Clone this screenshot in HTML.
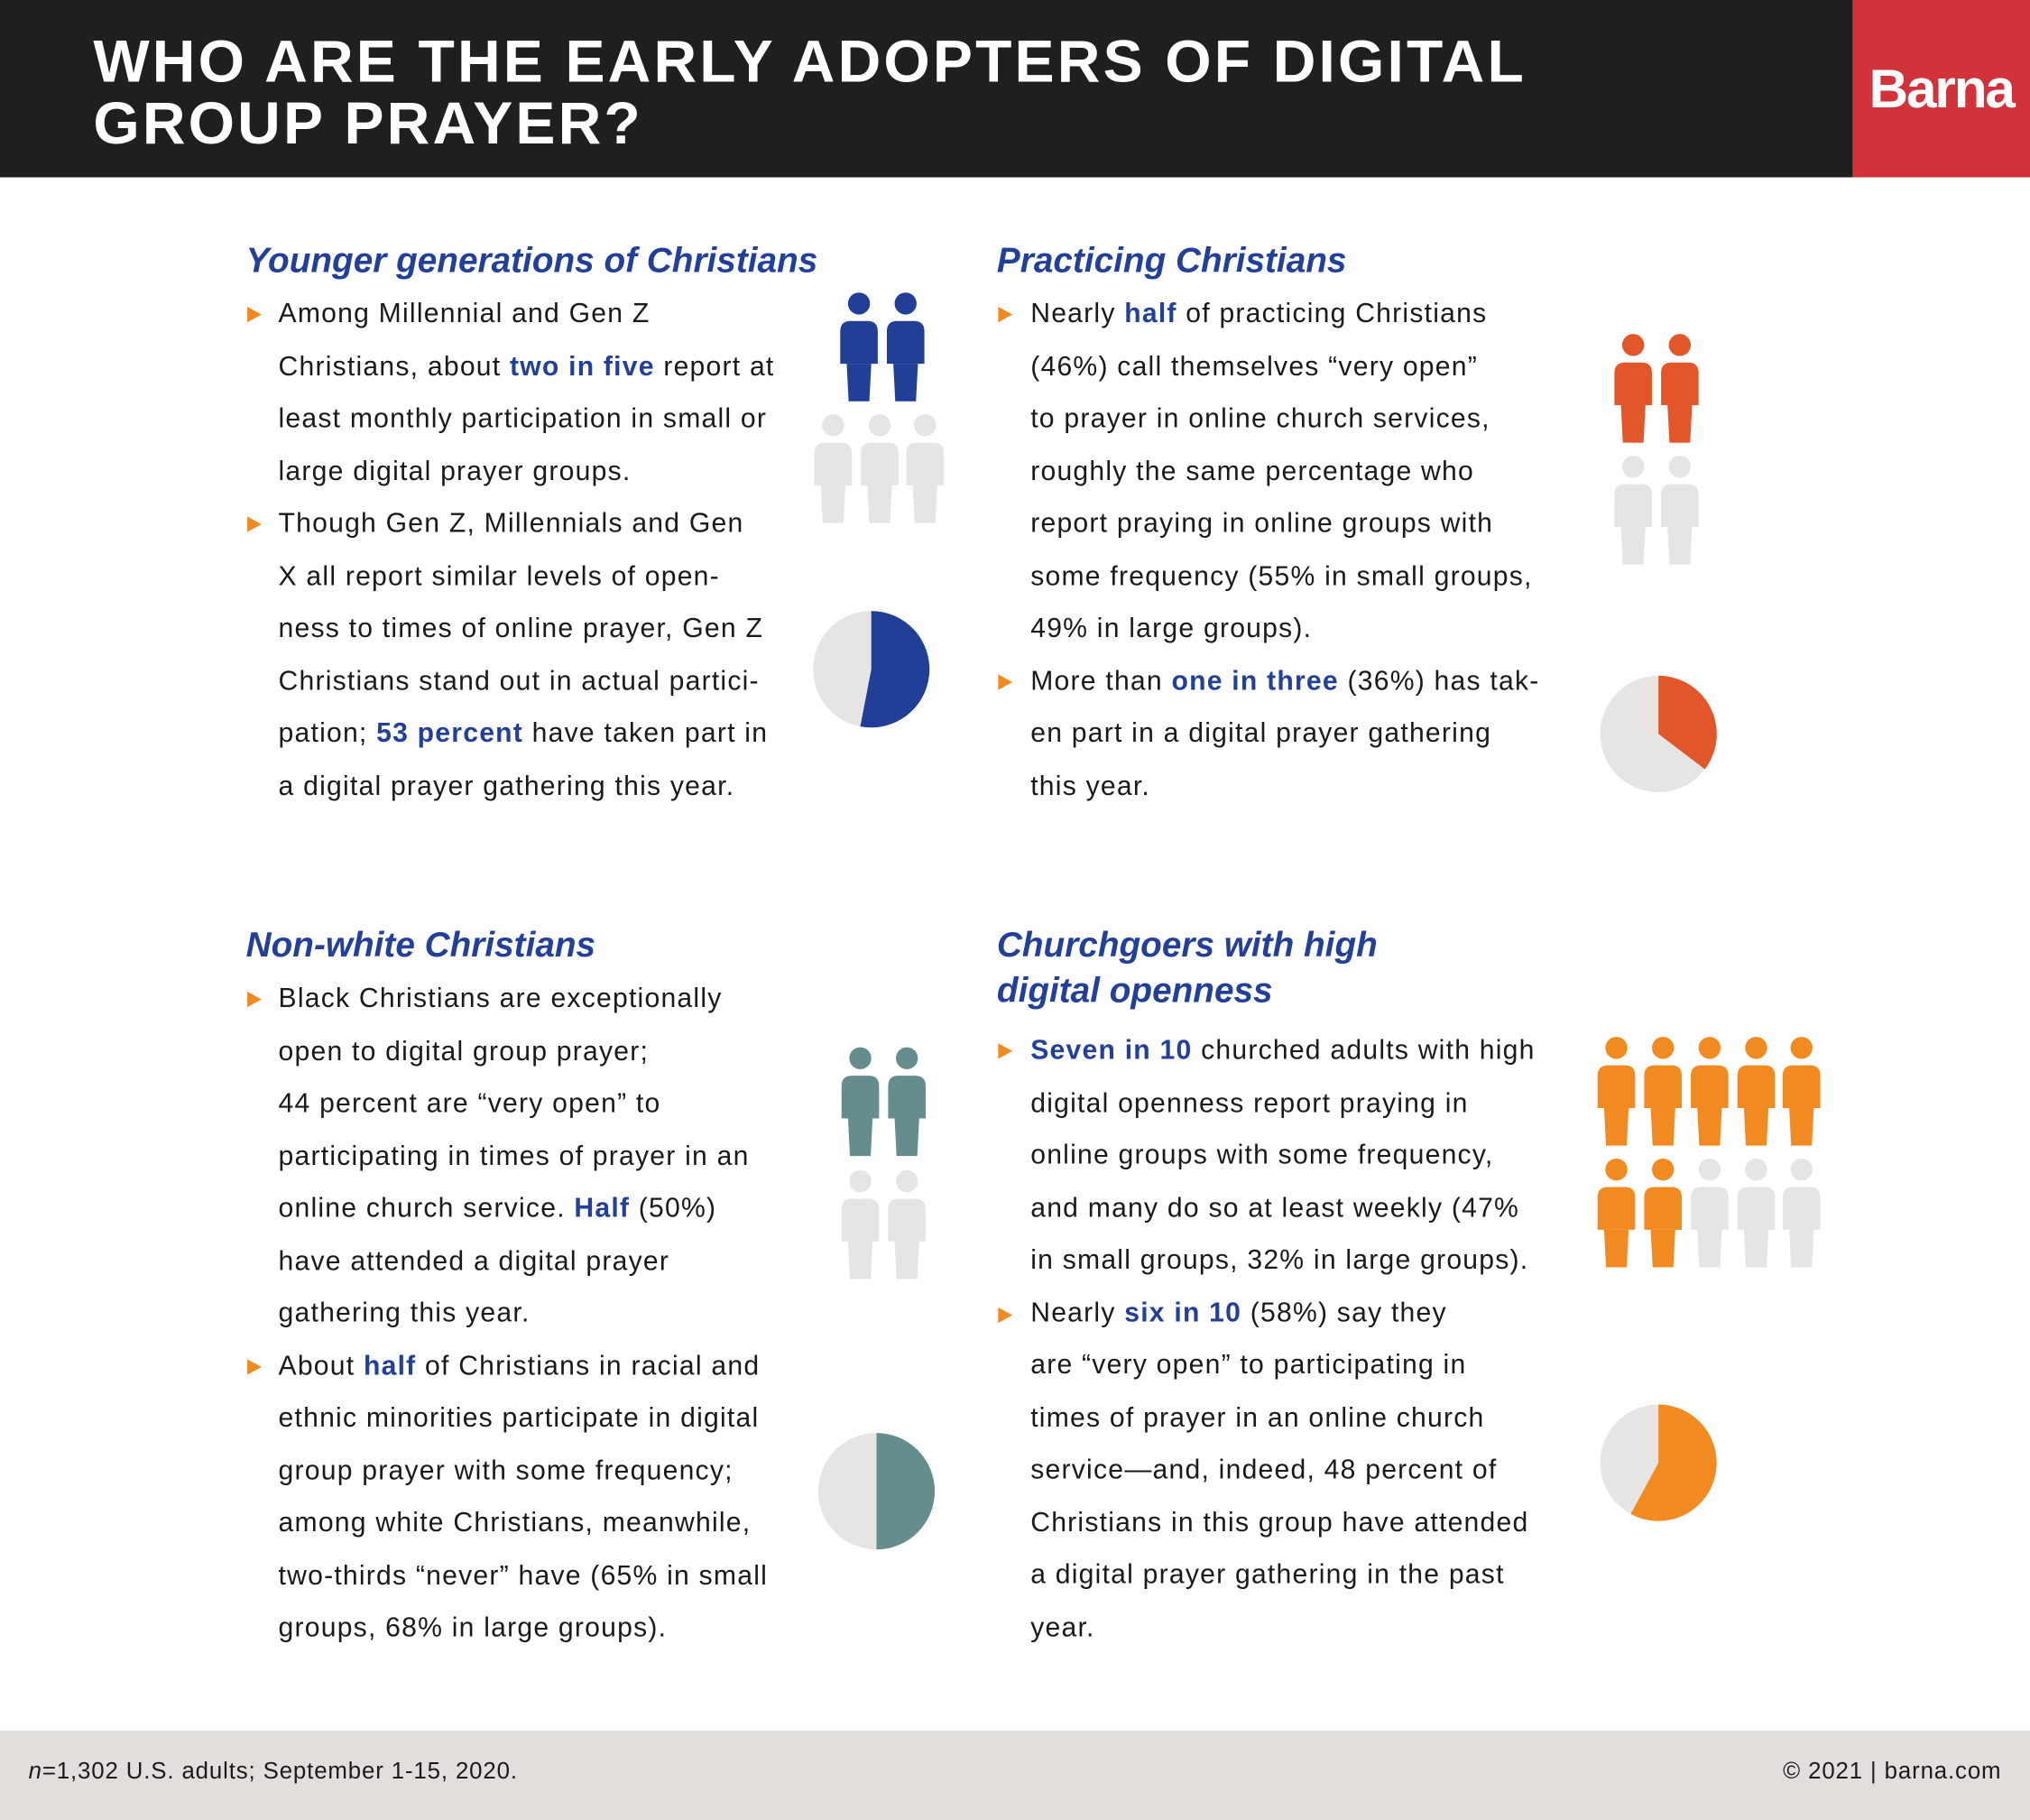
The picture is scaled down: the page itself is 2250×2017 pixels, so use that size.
<!DOCTYPE html>
<html><head><meta charset="utf-8"><style>
html,body{margin:0;padding:0;background:#fff;}
body{width:2250px;height:2017px;overflow:hidden;position:relative;}
#w{position:absolute;left:0;top:0;width:1568px;height:1406px;transform:scale(1.43495,1.4346);transform-origin:0 0;font-family:"Liberation Sans",sans-serif;color:#1a1a1a;}
.hdr{position:absolute;left:0;top:0;width:1431px;height:137px;background:#1f1f1f;}
.title{position:absolute;left:72px;top:23px;color:#fff;font-weight:bold;font-size:46px;line-height:48px;letter-spacing:2.2px;}
.logo{position:absolute;left:1431px;top:0;width:137px;height:137px;background:#d2333b;color:#fff;font-weight:bold;font-size:42px;line-height:137px;text-align:center;letter-spacing:-1.5px;}
.h{position:absolute;font-size:27px;font-weight:bold;font-style:italic;color:#22409a;line-height:35px;white-space:nowrap;}
.t{position:absolute;font-size:21px;line-height:40.5px;white-space:nowrap;letter-spacing:0.85px;}
.t b{color:#22409a;}
.tri{position:absolute;width:0;height:0;border-left:11px solid #f28a22;border-top:6.5px solid transparent;border-bottom:6.5px solid transparent;}
.ft{position:absolute;left:0;top:1337px;width:1568px;height:69px;background:#e2dedb;font-size:18px;letter-spacing:0.6px;}
svg{position:absolute;left:0;top:0;}
</style></head><body><div id="w">
<div class="hdr"></div>
<div class="title">WHO ARE THE EARLY ADOPTERS OF DIGITAL<br>GROUP PRAYER?</div>
<div class="logo">Barna</div>

<div class="h" style="left:190px;top:184px">Younger generations of Christians</div>
<div class="tri" style="left:191px;top:237px"></div>
<div class="tri" style="left:191px;top:399px"></div>
<div class="t" style="left:215px;top:223px">Among Millennial and Gen Z<br>Christians, about <b>two in five</b> report at<br>least monthly participation in small or<br>large digital prayer groups.<br>Though Gen Z, Millennials and Gen<br>X all report similar levels of open-<br>ness to times of online prayer, Gen Z<br>Christians stand out in actual partici-<br>pation; <b>53 percent</b> have taken part in<br>a digital prayer gathering this year.</div>

<div class="h" style="left:770px;top:184px">Practicing Christians</div>
<div class="tri" style="left:771px;top:237px"></div>
<div class="tri" style="left:771px;top:521px"></div>
<div class="t" style="left:796px;top:223px">Nearly <b>half</b> of practicing Christians<br>(46%) call themselves “very open”<br>to prayer in online church services,<br>roughly the same percentage who<br>report praying in online groups with<br>some frequency (55% in small groups,<br>49% in large groups).<br>More than <b>one in three</b> (36%) has tak-<br>en part in a digital prayer gathering<br>this year.</div>

<div class="h" style="left:190px;top:713px">Non-white Christians</div>
<div class="tri" style="left:191px;top:766px"></div>
<div class="tri" style="left:191px;top:1050px"></div>
<div class="t" style="left:215px;top:752px">Black Christians are exceptionally<br>open to digital group prayer;<br>44 percent are “very open” to<br>participating in times of prayer in an<br>online church service. <b>Half</b> (50%)<br>have attended a digital prayer<br>gathering this year.<br>About <b>half</b> of Christians in racial and<br>ethnic minorities participate in digital<br>group prayer with some frequency;<br>among white Christians, meanwhile,<br>two-thirds “never” have (65% in small<br>groups, 68% in large groups).</div>

<div class="h" style="left:770px;top:713px">Churchgoers with high<br>digital openness</div>
<div class="tri" style="left:771px;top:806px"></div>
<div class="tri" style="left:771px;top:1010px"></div>
<div class="t" style="left:796px;top:792px"><b>Seven in 10</b> churched adults with high<br>digital openness report praying in<br>online groups with some frequency,<br>and many do so at least weekly (47%<br>in small groups, 32% in large groups).<br>Nearly <b>six in 10</b> (58%) say they<br>are “very open” to participating in<br>times of prayer in an online church<br>service—and, indeed, 48 percent of<br>Christians in this group have attended<br>a digital prayer gathering in the past<br>year.</div>

<svg width="1568" height="1406" viewBox="0 0 1568 1406">
<defs><g id="p"><circle cx="14.5" cy="8.5" r="8.5"/><path d="M0,30 Q0,22 8,22 H21 Q29,22 29,30 V55 H0 Z"/><path d="M5,55 H24 L22.5,84 H6.5 Z"/></g></defs>
<g fill="#213f96"><use href="#p" x="649" y="226"/><use href="#p" x="685" y="226"/></g>
<g fill="#e6e5e3"><use href="#p" x="629" y="320"/><use href="#p" x="665" y="320"/><use href="#p" x="700" y="320"/></g>
<circle cx="673" cy="517" r="45" fill="#e6e5e3"/>
<path d="M673,517 L673,472 A45,45 0 1,1 664.5,561.2 Z" fill="#213f96"/>

<g fill="#e2572a"><use href="#p" x="1247" y="258"/><use href="#p" x="1283" y="258"/></g>
<g fill="#e6e5e3"><use href="#p" x="1247" y="352"/><use href="#p" x="1283" y="352"/></g>
<circle cx="1281" cy="567" r="45" fill="#e6e5e3"/>
<path d="M1281,567 L1281,522 A45,45 0 0,1 1316.9,594.2 Z" fill="#e2572a"/>

<g fill="#668d8d"><use href="#p" x="650" y="809"/><use href="#p" x="686" y="809"/></g>
<g fill="#e6e5e3"><use href="#p" x="650" y="904"/><use href="#p" x="686" y="904"/></g>
<circle cx="677" cy="1152" r="45" fill="#e6e5e3"/>
<path d="M677,1107 A45,45 0 0,1 677,1197 Z" fill="#668d8d"/>

<g fill="#f28a22"><use href="#p" x="1234" y="801"/><use href="#p" x="1270" y="801"/><use href="#p" x="1306" y="801"/><use href="#p" x="1342" y="801"/><use href="#p" x="1377" y="801"/><use href="#p" x="1234" y="895"/><use href="#p" x="1270" y="895"/></g>
<g fill="#e6e5e3"><use href="#p" x="1306" y="895"/><use href="#p" x="1342" y="895"/><use href="#p" x="1377" y="895"/></g>
<circle cx="1281" cy="1130" r="45" fill="#e6e5e3"/>
<path d="M1281,1130 L1281,1085 A45,45 0 1,1 1259.6,1169.6 Z" fill="#f28a22"/>
</svg>

<div class="ft"><span style="position:absolute;left:22px;top:21px"><i>n</i>=1,302 U.S. adults; September 1-15, 2020.</span><span style="position:absolute;right:22px;top:21px">© 2021 | barna.com</span></div>
</div></body></html>
